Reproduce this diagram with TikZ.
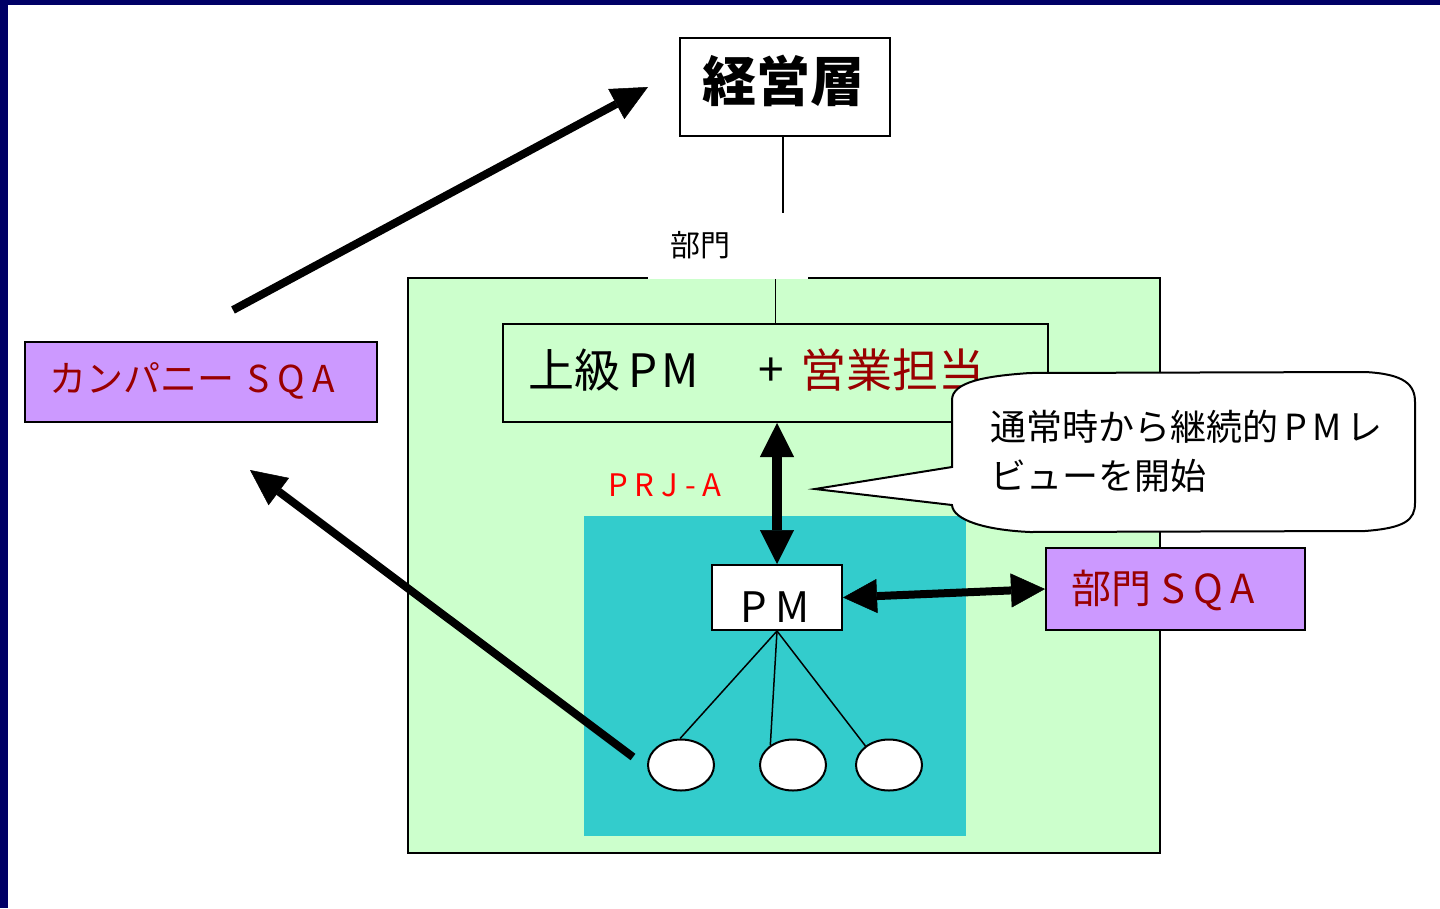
\documentclass[tikz,border=0pt]{standalone}
\usepackage{fontspec}
\setmainfont{Noto Sans CJK JP}
\usetikzlibrary{arrows.meta,shapes.geometric}
\definecolor{navy}{HTML}{000066}
\definecolor{pgreen}{HTML}{CCFFCC}
\definecolor{pcyan}{HTML}{33CCCC}
\definecolor{ppurple}{HTML}{CC99FF}
\definecolor{dred}{HTML}{990000}
\definecolor{bred}{HTML}{FF0000}
\makeatletter
\def\ks#1#2{\def\ks@k{#1\relax}\ks@first#2\ks@end}
\def\ks@first#1{#1\ks@loop}
\def\ks@loop#1{\ifx\ks@end#1\else\kern\ks@k #1\expandafter\ks@loop\fi}
\makeatother
\begin{document}
\begin{tikzpicture}[x=1pt,y=-1pt,
  box/.style={draw=black, line width=2pt, inner sep=0pt, rectangle},
  txt/.style={inner sep=0pt, anchor=west},
  ell/.style={ellipse, draw=black, line width=2pt, fill=white, minimum width=66pt, minimum height=51pt, inner sep=0pt},
  link/.style={draw=black, line width=1.5pt},
  tip/.style={Triangle[length=34pt,width=34pt,line width=0.5pt]},
  bigarrow/.style={line width=8pt, -{Triangle[length=36pt,width=34pt,line width=0.5pt]}},
  dblarrow/.style={line width=10pt, {Triangle[length=34pt,width=34pt,line width=0.5pt]}-{Triangle[length=34pt,width=34pt,line width=0.5pt]}}
]
\useasboundingbox (0,0) rectangle (1440,908);
\fill[navy] (0,0) rectangle (1440,908);
\fill[white] (8,5) rectangle (1440,908);

% green department area
\node[box, fill=pgreen, minimum width=752pt, minimum height=575pt] (green) at (784,565.5) {};
\node[box, fill=pgreen, minimum width=545pt, minimum height=98pt] (joshi) at (775.5,373) {};
\draw[link] (joshi.north) -- (joshi.north |- green.north);

% top management
\node[box, fill=white, minimum width=210pt, minimum height=98pt] (keiei) at (785,87) {};
\node[font=\fontsize{54}{60}\selectfont\bfseries, inner sep=0pt] (keieit) at (783,81) {経営層};
\coordinate (k1) at (783,213);
\draw[link] (keiei.south -| k1) -- (k1);
\fill[white] (648,216) rectangle (808,279.2);
\node[txt, font=\fontsize{30}{34}\selectfont] (bumon) at (670,245) {部門};

% project area
\node[fill=pcyan, minimum width=382pt, minimum height=320pt, inner sep=0pt] (cyan) at (775,676) {};
\node[txt, font=\fontsize{46}{50}\selectfont] (joshit) at (528,370) {上級\kern8pt\ks{4pt}{PM}};
\node[font=\fontsize{46}{50}\selectfont, inner sep=0pt] (plus) at (771,372) {+};
\node[txt, font=\fontsize{46}{50}\selectfont, text=dred] (eigyo) at (800,370) {営業担当};
\node[txt, font=\fontsize{31}{34}\selectfont, text=bred] (prj) at (608,485) {\ks{7pt}{PRJ-A}};

% callout
\draw[line width=2pt, fill=white] (952,467) -- (952,400)
  .. controls (952,382) and (985,376) .. (1030,373) -- (1365,372)
  .. controls (1405,374) and (1415,385) .. (1415,402) -- (1415,503)
  .. controls (1415,520) and (1405,528) .. (1365,531) -- (1030,532)
  .. controls (985,530) and (953,520) .. (952,505) -- (815,489) -- cycle;
\node[txt, font=\fontsize{36}{40}\selectfont] (co1) at (990,427) {通常時から継続的\kern6pt\ks{6pt}{PM}\kern4ptレ};
\node[txt, font=\fontsize{36}{40}\selectfont] (co2) at (990,476) {ビューを開始};

% PM and members
\node[box, fill=white, minimum width=130pt, minimum height=65pt] (pm) at (777,597.5) {};
\node[font=\fontsize{42}{46}\selectfont, inner sep=0pt] (pmt) at (775,607) {\ks{8pt}{PM}};
\node[ell] (e1) at (681,765) {};
\node[ell] (e2) at (793,765) {};
\node[ell] (e3) at (889,765) {};
\draw[link] (pm.south) -- (e1.92);
\draw[link] (pm.south) -- (e2.139);
\draw[link] (pm.south) -- (e3.141);

% SQA boxes
\node[box, fill=ppurple, minimum width=352pt, minimum height=80pt] (csqa) at (201,382) {};
\node[txt, font=\fontsize{37}{40}\selectfont, text=dred] (csqat) at (49,381) {カンパニー\kern13pt\ks{8pt}{SQA}};
\node[box, fill=ppurple, minimum width=259pt, minimum height=82pt] (bsqa) at (1175.5,589) {};
\node[txt, font=\fontsize{40}{44}\selectfont, text=dred] (bsqat) at (1071,590) {部門\kern10pt\ks{8pt}{SQA}};

% arrows
\coordinate (a1s) at (233,310);
\coordinate (a1e) at (648,87);
\draw[bigarrow] (a1s) -- (a1e);
\coordinate (a2s) at (633,757);
\coordinate (a2e) at (250,470);
\draw[bigarrow] (a2s) -- (a2e);
\draw[dblarrow] (pm.north) -- (pm.north |- joshi.south);
\draw[dblarrow, line width=8pt] (pm.east) -- (bsqa.west);
\end{tikzpicture}
\end{document}
